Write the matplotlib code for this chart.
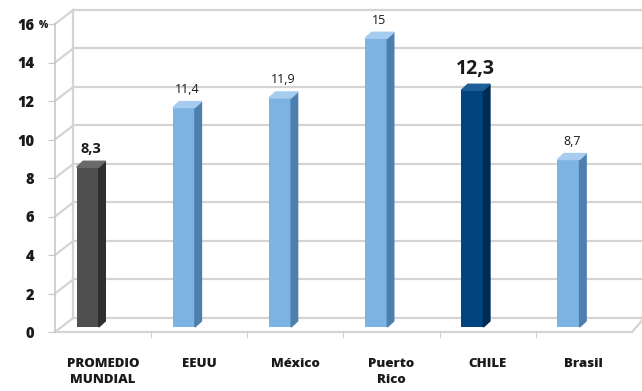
import matplotlib

matplotlib.use("Agg")
import matplotlib.pyplot as plt
from matplotlib.patches import Polygon

plt.rcParams["font.family"] = ["Open Sans", "DejaVu Sans"]

categories = ["PROMEDIO\nMUNDIAL", "EEUU", "México", "Puerto\nRico", "CHILE", "Brasil"]
values = [8.3, 11.4, 11.9, 15, 12.3, 8.7]
value_labels = ["8,3", "11,4", "11,9", "15", "12,3", "8,7"]
yticks = [0, 2, 4, 6, 8, 10, 12, 14, 16]

# front / side / top colours per bar
LIGHT = ("#7db3e3", "#4d7fae", "#a6cdf0")
GREY = ("#4f4f4f", "#2e2e2e", "#6a6a6a")
NAVY = ("#00457f", "#002a52", "#1d5e99")
bar_colors = [GREY, LIGHT, LIGHT, LIGHT, NAVY, LIGHT]
label_style = [
    dict(fontsize=10.5, fontweight="bold"),
    dict(fontsize=9),
    dict(fontsize=9),
    dict(fontsize=9),
    dict(fontsize=14, fontweight="bold"),
    dict(fontsize=9),
]

GRID = "#d4d4d4"
DX, DY = 0.19, 0.73      # offset of back wall (data units)
BX, BW = -0.16, 0.23     # bar shift from category centre, bar width
BASE = 0.26              # bars stand slightly behind the front edge
SX, SY = 0.068, 0.31     # bar depth (side / top faces)

fig = plt.figure(figsize=(6.42, 3.91), dpi=100)
ax = fig.add_axes([55 / 642, 59 / 391, 577 / 642, 308 / 391])
n = len(categories)
x0, x1 = -0.5, n - 0.5
ax.set_xlim(x0, x1)
ax.set_ylim(0, 16)

# back wall grid + side-wall connectors
for v in yticks:
    ax.plot([x0 + DX, x1 + DX + 0.2], [v + DY, v + DY], color=GRID, lw=1.6,
            clip_on=False, zorder=1)
    ax.plot([x0, x0 + DX], [v, v + DY], color=GRID, lw=1.6, clip_on=False, zorder=1)
ax.plot([x0 + DX, x0 + DX], [DY, 16 + DY], color=GRID, lw=1.6, clip_on=False, zorder=1)
# floor front edge
ax.plot([x0, x1], [0, 0], color=GRID, lw=1.6, clip_on=False, zorder=1)
ax.plot([x1, x1 + DX * 0.6], [0, DY * 0.9], color=GRID, lw=1.6, clip_on=False, zorder=1)

for i, (v, cols) in enumerate(zip(values, bar_colors)):
    front, side, top = cols
    left = i + BX - BW / 2
    right = left + BW
    ax.bar(i + BX, v, width=BW, bottom=BASE, color=front, zorder=3)
    ax.add_patch(Polygon([(right, BASE), (right + SX, BASE + SY),
                          (right + SX, BASE + v + SY), (right, BASE + v)],
                         closed=True, color=side, zorder=3))
    ax.add_patch(Polygon([(left, BASE + v), (right, BASE + v),
                          (right + SX, BASE + v + SY), (left + SX, BASE + v + SY)],
                         closed=True, color=top, zorder=3))
    ax.annotate(value_labels[i], (i + BX + SX / 2, BASE + v + SY), xytext=(0, 4),
                textcoords="offset points", ha="center", va="bottom",
                color="#1a1a1a", zorder=4, **label_style[i])

for s in ["top", "right", "bottom"]:
    ax.spines[s].set_visible(False)
ax.spines["left"].set_color("#c8c8c8")
ax.spines["left"].set_linewidth(1.2)
ax.set_yticks(yticks)
ax.set_yticklabels([str(t) for t in yticks], fontsize=10.5, fontweight="heavy",
                   color="#1a1a1a")
ax.tick_params(axis="y", length=5, color="#c8c8c8", pad=10)
fig.text(39 / 642, 1 - 26 / 391, "%", ha="left", va="center",
         fontsize=7, fontweight="heavy", color="#1a1a1a")

ax.set_xticks(range(n))
ax.set_xticklabels(categories, fontsize=9.5, fontweight="heavy", color="#1a1a1a",
                   linespacing=1.45)
ax.set_xticks([k + 0.5 for k in range(-1, n - 1)][1:], minor=True)
ax.tick_params(axis="x", which="major", length=0, pad=19)
ax.tick_params(axis="x", which="minor", length=4, color="#c8c8c8")

fig.savefig("out.png", dpi=100)
